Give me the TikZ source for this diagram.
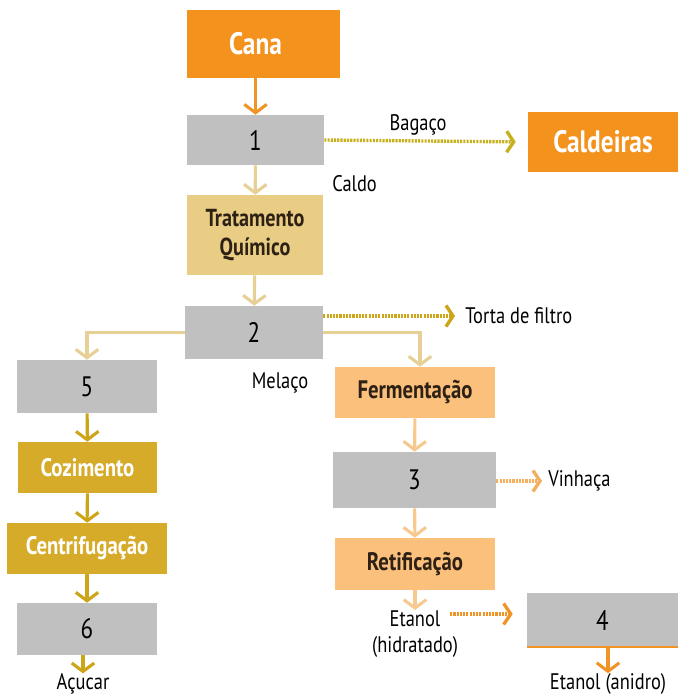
\documentclass[tikz,border=0pt]{standalone}
\usepackage{fontspec}
\setmainfont{PT Sans}[FakeStretch=0.82]
\usetikzlibrary{arrows.meta}

\definecolor{caneorange}{RGB}{244,146,30}
\definecolor{stepgray}{RGB}{192,192,192}
\definecolor{khaki}{RGB}{233,205,132}
\definecolor{khakiline}{RGB}{230,208,150}
\definecolor{golden}{RGB}{214,171,42}
\definecolor{goldline}{RGB}{204,165,24}
\definecolor{peach}{RGB}{251,192,124}
\definecolor{peachline}{RGB}{248,201,142}
\definecolor{orangeline}{RGB}{240,148,40}
\definecolor{oliveline}{RGB}{198,176,30}
\definecolor{darktext}{RGB}{45,32,20}

\begin{document}
\begin{tikzpicture}[x=0.025cm, y=-0.025cm,
  every node/.style={font=\fontsize{16}{19}\selectfont, inner sep=0pt},
  dims/.style 2 args={minimum width=#1*0.025cm, minimum height=#2*0.025cm},
  bigbox/.style={fill=caneorange, text=white, font=\fontsize{22}{24}\selectfont\bfseries},
  numbox/.style={fill=stepgray, font=\fontsize{20}{22}\selectfont},
  khakibox/.style={fill=khaki, text=darktext, align=center, font=\fontsize{17.5}{20}\selectfont\bfseries},
  goldbox/.style={fill=golden, text=white, font=\fontsize{18}{20}\selectfont\bfseries},
  peachbox/.style={fill=peach, text=darktext, font=\fontsize{18}{20}\selectfont\bfseries},
  flow/.style={line width=2.2pt, -{Straight Barb[length=6pt,width=16pt]}},
  dotflow/.style={line width=2.4pt, dash pattern=on 1.5pt off 0.8pt, -{Straight Barb[length=5pt,width=15pt]}}]

\useasboundingbox (0,0) rectangle (678,695);

% main line
\node[bigbox, dims={153}{68}] (cana) at (263.5,44) {\kern-0.4cm Cana};
\node[numbox, dims={137}{50}] (s1) at (255.5,140) {1};
\node[bigbox, dims={150}{60}] (caldeiras) at (603,142) {Caldeiras};
\node[khakibox, dims={136}{80}] (tratamento) at (255,235) {Tratamento\\Químico};
\node[numbox, dims={138}{53}] (s2) at (254,332.5) {2};

% sugar branch
\node[numbox, dims={140}{53}] (s5) at (87,386.5) {5};
\node[goldbox, dims={139}{51}] (cozimento) at (87.5,467.5) {Cozimento};
\node[goldbox, dims={160}{51}] (centrifugacao) at (87,548.5) {Centrifugação};
\node[numbox, dims={140}{52}] (s6) at (87,629) {6};
\node (acucar) at (83,684) {Açucar};

% ethanol branch
\node[peachbox, dims={160}{51}] (fermentacao) at (415,392.5) {Fermentação};
\node[numbox, dims={163}{56}] (s3) at (414.5,480) {3};
\node[peachbox, dims={160}{52}] (retificacao) at (415,564) {Retificação};
\node[align=center] (etanolh) at (415,634) {Etanol\\(hidratado)};
\node[numbox, dims={151}{54}] (s4) at (602.5,620) {4};
\node (anidro) at (608,684) {Etanol (anidro)};

% labels
\node (bagaco) at (418,125) {Bagaço};
\node[anchor=west] (caldo) at (332,184) {Caldo};
\node[anchor=west] (torta) at (465,316) {Torta de filtro};
\node (melaco) at (280,383) {Melaço};
\node[anchor=west] (vinhaca) at (548,481) {Vinhaça};

% connectors
\draw[flow, orangeline] (cana.south -| s1.north) -- (s1.north);
\draw[flow, khakiline] (s1) -- (tratamento);
\draw[flow, khakiline] (tratamento) -- (s2);
\draw[flow, khakiline] (s2.west) -| (s5.north);
\draw[flow, khakiline] (s2.east) -| ([xshift=0.125cm]fermentacao.north);
\draw[flow, goldline] (s5) -- (cozimento);
\draw[flow, goldline] (cozimento) -- (centrifugacao);
\draw[flow, goldline] (centrifugacao) -- (s6);
\draw[flow, goldline] (s6.south -| acucar.north) -- (acucar.north);
\draw[flow, peachline] (fermentacao) -- (s3);
\draw[flow, peachline] (s3) -- (retificacao);
\draw[flow, peachline] (retificacao) -- (etanolh);
\draw[line width=1.2pt, orangeline] (s4.south west) -- (s4.south east);
\draw[flow, orangeline] (s4.south -| anidro.north) -- (anidro.north);

\draw[dotflow, oliveline, shorten >=0.3cm] (s1.east) -- (caldeiras.west);
\draw[dotflow, goldline, shorten >=0.25cm] (s2.east |- torta.west) -- (torta.west);
\draw[dotflow, orangeline!75, shorten >=0.15cm] (s3.east |- vinhaca.west) -- (vinhaca.west);
\draw[dotflow, orangeline, shorten >=0.35cm] ([shift={(-0.2cm,0.5cm)}]etanolh.east) -- ([yshift=0.5cm]etanolh.east -| s4.west);
\end{tikzpicture}
\end{document}
